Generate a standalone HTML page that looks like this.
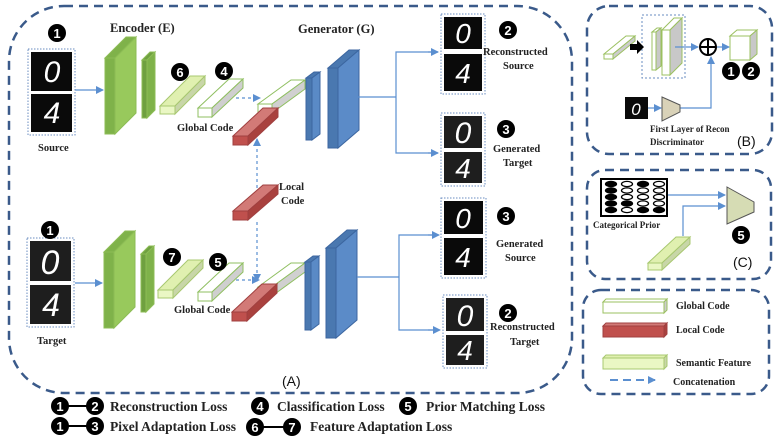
<!DOCTYPE html>
<html><head><meta charset="utf-8"><style>
html,body{margin:0;padding:0;background:#fff;width:777px;height:439px;overflow:hidden}
svg{display:block}
.s{font-family:"Liberation Serif",serif;font-weight:bold;fill:#222}
.b{font-family:"Liberation Sans",sans-serif;font-weight:bold;fill:#fff;text-anchor:middle}
.d{font-family:"Liberation Sans",sans-serif;fill:#fff;font-style:italic;text-anchor:middle}
</style></head><body>
<svg id="sv" width="777" height="439" viewBox="0 0 777 439" xmlns="http://www.w3.org/2000/svg">
<defs>
<marker id="ar" markerWidth="8" markerHeight="8" refX="7" refY="4" orient="auto" markerUnits="userSpaceOnUse"><path d="M0,0 L8,4 L0,8 Z" fill="#5b8fd0"/></marker>
</defs>
<g fill="none" stroke="#3a5a8a" stroke-width="2.5" stroke-dasharray="9,6">
<rect x="9" y="6" width="563" height="387" rx="55"/>
<rect x="587" y="6" width="185" height="148" rx="22"/>
<rect x="587" y="170" width="184" height="109" rx="18"/>
<rect x="583" y="290" width="186" height="104" rx="18"/>
</g>
<g id="shapes"></g>
<g stroke="#5b8fd0" stroke-width="1.2" fill="none">
<line x1="75" y1="90" x2="103" y2="90" marker-end="url(#ar)"/>
<line x1="75" y1="283" x2="102" y2="283" marker-end="url(#ar)"/>
<line x1="236" y1="98" x2="260" y2="98" stroke-dasharray="3,3" marker-end="url(#ar)"/>
<line x1="236" y1="280" x2="259" y2="280" stroke-dasharray="3,3" marker-end="url(#ar)"/>
<line x1="257" y1="188" x2="257" y2="139" stroke-dasharray="3,3" marker-end="url(#ar)"/>
<line x1="257" y1="222" x2="257" y2="281" stroke-dasharray="3,3" marker-end="url(#ar)"/>
<polyline points="358,97 396,97"/>
<polyline points="438,52 396,52 396,153 438,153" />
<line x1="428" y1="52" x2="438" y2="52" marker-end="url(#ar)"/>
<line x1="428" y1="153" x2="438" y2="153" marker-end="url(#ar)"/>
<polyline points="357,277 399,277"/>
<polyline points="438,235 399,235 399,330 438,330"/>
<line x1="428" y1="235" x2="439" y2="235" marker-end="url(#ar)"/>
<line x1="428" y1="330" x2="440" y2="330" marker-end="url(#ar)"/>
<line x1="675" y1="47" x2="698" y2="47" marker-end="url(#ar)"/>
<line x1="717" y1="47" x2="729" y2="47" marker-end="url(#ar)"/>
<line x1="648" y1="108" x2="661" y2="108" marker-end="url(#ar)"/>
<polyline points="680,108 711,108 711,58"/>
<line x1="711" y1="62" x2="711" y2="57" marker-end="url(#ar)"/>
<line x1="668" y1="195" x2="725" y2="195" marker-end="url(#ar)"/>
<polyline points="683,236 683,206 725,206" marker-end="url(#ar)"/>
<line x1="610" y1="380" x2="655" y2="380" stroke-dasharray="8,5" stroke-width="2" marker-end="url(#ar)"/>
</g>
<g>
<rect x="28" y="49" width="47" height="86" fill="none" stroke="#6a8cc0" stroke-dasharray="1.5,1.5"/>
<rect x="31" y="52" width="41" height="39" fill="#0a0a0a"/><rect x="31" y="94" width="41" height="38" fill="#0a0a0a"/>
<text class="d" x="52" y="82" font-size="30">0</text><text class="d" x="52" y="123" font-size="30">4</text>
<rect x="27" y="238" width="47" height="89" fill="none" stroke="#6a8cc0" stroke-dasharray="1.5,1.5"/>
<rect x="30" y="241" width="41" height="40" fill="#1e1e1e"/><rect x="30" y="285" width="41" height="39" fill="#1e1e1e"/>
<text class="d" x="50" y="274" font-size="34" fill="#ddd">0</text><text class="d" x="51" y="316" font-size="32">4</text>
<rect x="441" y="14" width="44" height="80" fill="none" stroke="#6a8cc0" stroke-dasharray="1.5,1.5"/>
<rect x="444" y="17" width="38" height="32" fill="#0a0a0a"/><rect x="444" y="54" width="38" height="37" fill="#0a0a0a"/>
<text class="d" x="463" y="43" font-size="28">0</text><text class="d" x="463" y="83" font-size="28">4</text>
<rect x="441" y="113" width="44" height="73" fill="none" stroke="#6a8cc0" stroke-dasharray="1.5,1.5"/>
<rect x="444" y="116" width="38" height="32" fill="#1e1e1e"/><rect x="444" y="152" width="38" height="31" fill="#1e1e1e"/>
<text class="d" x="463" y="143" font-size="30">0</text><text class="d" x="463" y="178" font-size="28">4</text>
<rect x="441" y="198" width="45" height="80" fill="none" stroke="#6a8cc0" stroke-dasharray="1.5,1.5"/>
<rect x="444" y="201" width="39" height="33" fill="#0a0a0a"/><rect x="444" y="238" width="39" height="37" fill="#0a0a0a"/>
<text class="d" x="463" y="228" font-size="28">0</text><text class="d" x="463" y="267" font-size="28">4</text>
<rect x="443" y="295" width="44" height="73" fill="none" stroke="#6a8cc0" stroke-dasharray="1.5,1.5"/>
<rect x="446" y="298" width="38" height="33" fill="#1e1e1e"/><rect x="446" y="335" width="38" height="30" fill="#1e1e1e"/>
<text class="d" x="465" y="326" font-size="30">0</text><text class="d" x="465" y="360" font-size="28">4</text>
<rect x="625" y="97" width="23" height="22" fill="#0a0a0a"/><text class="d" x="636" y="115" font-size="17">0</text>
</g>
<rect x="601" y="179" width="66" height="37" fill="#fff" stroke="#000" stroke-width="2"/>
<g id="cat"></g>
<rect x="642" y="15" width="43" height="63" fill="none" stroke="#6a8cc0" stroke-dasharray="2,2"/>
<path d="M630,44 h7 v-4 l7,7 l-7,7 v-4 h-7 z" fill="#000"/>
<circle cx="708" cy="47" r="8" fill="#fff" stroke="#000" stroke-width="2"/>
<path d="M700,47 h16 M708,39 v16" stroke="#000" stroke-width="2"/>
<polygon points="662,97 680,105 680,112 662,121" fill="#d9d2b8" stroke="#555" stroke-width="1"/>
<polygon points="727,187 754,202 754,212 727,224" fill="#d6dcb4" stroke="#555" stroke-width="1"/>
<g class="s" font-size="12.5">
<text x="110" y="32">Encoder (E)</text>
<text x="298" y="33">Generator (G)</text>
<text x="38" y="151" font-size="10.5">Source</text>
<text x="37" y="344" font-size="10.5">Target</text>
<text x="177" y="131" font-size="10.5">Global Code</text>
<text x="174" y="313" font-size="10.5">Global Code</text>
<text x="279" y="190" font-size="10.5">Local</text>
<text x="281" y="204" font-size="10.5">Code</text>
<text x="483" y="55" font-size="10.5">Reconstructed</text>
<text x="503" y="69" font-size="10.5">Source</text>
<text x="493" y="152" font-size="10.5">Generated</text>
<text x="503" y="166" font-size="10.5">Target</text>
<text x="496" y="247" font-size="10.5">Generated</text>
<text x="505" y="261" font-size="10.5">Source</text>
<text x="490" y="330" font-size="10.5">Reconstructed</text>
<text x="510" y="345" font-size="10.5">Target</text>
<text x="650" y="132" font-size="9">First Layer of Recon</text>
<text x="650" y="145" font-size="9">Discriminator</text>
<text x="593" y="228" font-size="9">Categorical Prior</text>
<text x="676" y="309" font-size="10">Global Code</text>
<text x="676" y="333" font-size="10">Local Code</text>
<text x="676" y="366" font-size="10">Semantic Feature</text>
<text x="673" y="385" font-size="10">Concatenation</text>
<text x="110" y="411" font-size="13.5">Reconstruction Loss</text>
<text x="277" y="411" font-size="13.5">Classification Loss</text>
<text x="426" y="411" font-size="13.5">Prior Matching Loss</text>
<text x="110" y="431" font-size="13.5">Pixel Adaptation Loss</text>
<text x="310" y="431" font-size="13.5">Feature Adaptation Loss</text>
</g>
<g font-family="Liberation Sans,sans-serif" font-size="14" fill="#111">
<text x="282" y="386">(A)</text><text x="737" y="146">(B)</text><text x="733" y="267">(C)</text>
</g>
<line x1="60" y1="406" x2="95" y2="406" stroke="#000" stroke-width="2"/>
<line x1="60" y1="426" x2="95" y2="426" stroke="#000" stroke-width="2"/>
<line x1="255" y1="427" x2="292" y2="427" stroke="#000" stroke-width="2"/>
<g id="badges"></g>
<g class="b" font-size="13">
<text x="57" y="38">1</text><text x="50" y="235">1</text><text x="180" y="77">6</text><text x="224" y="76">4</text><text x="172" y="262">7</text><text x="218" y="267">5</text><text x="508" y="35">2</text><text x="506" y="134">3</text><text x="506" y="221">3</text><text x="508" y="318">2</text><text x="731" y="76">1</text><text x="751" y="76">2</text><text x="741" y="240">5</text><text x="60" y="411">1</text><text x="95" y="411">2</text><text x="260" y="411">4</text><text x="408" y="411">5</text><text x="60" y="431">1</text><text x="95" y="431">3</text><text x="255" y="432">6</text><text x="292" y="432">7</text>
</g>
</svg>
<script>
var NS="http://www.w3.org/2000/svg",g=document.getElementById("shapes");
function P(pts,f,s,w){var p=document.createElementNS(NS,"polygon");p.setAttribute("points",pts.map(function(a){return a.join(",")}).join(" "));p.setAttribute("fill",f);p.setAttribute("stroke",s||"none");p.setAttribute("stroke-width",w||1);g.appendChild(p);}
function B(x,y,w,h,dx,dy,fr,tp,sd,st){P([[x,y],[x+dx,y+dy],[x+w+dx,y+dy],[x+w,y]],tp,st);P([[x+w,y],[x+w+dx,y+dy],[x+w+dx,y+h+dy],[x+w,y+h]],sd,st);P([[x,y],[x+w,y],[x+w,y+h],[x,y+h]],fr,st);}
function S(x,y,w,h,dx,dy,fr,sd,st){P([[x,y],[x+dx,y+dy],[x+w+dx,y+dy],[x+w,y]],fr,st);P([[x+w,y],[x+w+dx,y+dy],[x+w+dx,y+h+dy],[x+w,y+h]],sd,st);P([[x,y],[x+w,y],[x+w,y+h],[x,y+h]],fr,st);}
var G1="#7fb24a",G2="#98c95c",GS="#8cbc55";
S(105,58,10,76,21,-21,G1,G2,GS);S(142,60,5,58,8,-8,"#6fa040",G1,GS);
B(160,106,15,8,30,-30,"#eaf7c4","#e0f0b0","#c8d6a8","#a8c870");
B(198,108,14,9,31,-29,"#fff","#fff","#cfcfcf","#8fbf60");
B(258,104,14,9,33,-24,"#fff","#fff","#d0d0d0","#8fbf60");
B(233,136,15,9,30,-28,"#c0504d","#d27a77","#a9413e","#a04040");
S(306,78,6,62,8,-6,"#4a78b0","#5a8ac6","#3c66a0");S(328,68,10,80,21,-18,"#4a78b0","#5b8bc8","#3c66a0");
B(233,211,15,9,30,-26,"#c0504d","#d27a77","#a9413e","#a04040");
S(104,252,10,76,21,-21,G1,G2,GS);S(141,254,5,58,8,-8,"#6fa040",G1,GS);
B(158,290,15,8,30,-30,"#eaf7c4","#e0f0b0","#c8d6a8","#a8c870");
B(198,292,14,9,31,-29,"#fff","#fff","#cfcfcf","#8fbf60");
B(258,287,14,9,33,-24,"#fff","#fff","#d0d0d0","#8fbf60");
B(232,312,15,9,30,-28,"#c0504d","#d27a77","#a9413e","#a04040");
S(305,262,6,68,8,-6,"#4a78b0","#5a8ac6","#3c66a0");S(326,248,10,90,21,-18,"#4a78b0","#5b8bc8","#3c66a0");
B(604,54,9,5,22,-18,"#fff","#fff","#ccc","#9bc060");
S(652,32,4,38,5,-4,"#fff","#c8c8c8","#9bc060");S(662,30,8,45,12,-12,"#fff","#c8c8c8","#9bc060");
B(730,36,20,24,7,-6,"#fff","#fff","#c8c8c8","#9bc060");
B(648,263,14,7,28,-26,"#eaf7c4","#e0f0b0","#c8d6a8","#a8c870");
B(603,302,61,11,3,-3,"#fff","#fff","#ccc","#9bc060");
B(603,326,61,11,3,-3,"#c0504d","#d27a77","#a9413e","#a04040");
B(603,358,61,11,3,-3,"#eaf7c4","#e0f0b0","#c8d6a8","#a8c870");
var c=document.getElementById("cat"),fill=[[1,0,1,0],[1,0,0,0],[1,0,0,0],[1,1,0,0],[1,0,1,1]];
for(var r=0;r<5;r++)for(var k=0;k<4;k++){var e=document.createElementNS(NS,"ellipse");e.setAttribute("cx",611+k*16);e.setAttribute("cy",184+r*6.5);e.setAttribute("rx",5.5);e.setAttribute("ry",2.6);e.setAttribute("fill",fill[r][k]?"#000":"#fff");e.setAttribute("stroke","#000");e.setAttribute("stroke-width",1.3);c.appendChild(e);}
var bd=[[57,33],[50,230],[180,72],[224,71],[172,257],[218,262],[508,30],[506,129],[506,216],[508,313],[731,71],[751,71],[741,235],[60,406],[95,406],[260,406],[408,406],[60,426],[95,426],[255,427],[292,427]],bg=document.getElementById("badges");
bd.forEach(function(a){var ci=document.createElementNS(NS,"circle");ci.setAttribute("cx",a[0]);ci.setAttribute("cy",a[1]);ci.setAttribute("r",9);ci.setAttribute("fill","#000");bg.appendChild(ci);});
</script>
</body></html>
